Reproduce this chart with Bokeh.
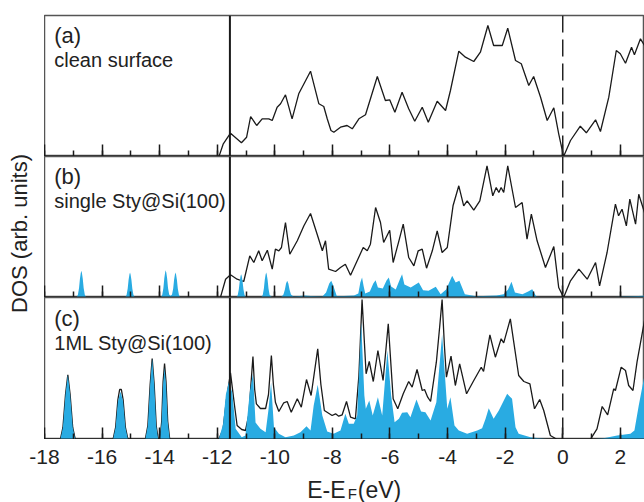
import math
from bokeh.plotting import figure
from bokeh.models import Range1d, Span, Label, SingleIntervalTicker
from bokeh.layouts import row, column
from bokeh.embed import file_html
from bokeh.resources import INLINE

# ---------------- data (energy in eV, DOS in arbitrary units) ----------------
x_ticks = [-18, -16, -14, -12, -10, -8, -6, -4, -2, 0, 2]
x_tick_labels = ["-18", "-16", "-14", "-12", "-10", "-8", "-6", "-4", "-2", "0", "2"]
x_start, x_end = -18, 2.84
surface_level = -11.56     # solid vertical marker
fermi_level = 0.0          # dashed vertical marker

panel_names = ["(a)", "(b)", "(c)"]
panel_texts = ["clean surface", "single Sty@Si(100)", "1ML Sty@Si(100)"]

# (a) clean surface: total DOS
a_total = [(-11.94, 0), (-11.79, 12.7), (-11.54, 23.3), (-11.16, 13.7), (-10.98, 19.3), (-10.84, 40),
           (-10.63, 31), (-10.44, 37.7), (-10.21, 37.7), (-10.09, 36), (-9.92, 49.3), (-9.80, 52.7),
           (-9.63, 61.7), (-9.40, 37.7), (-9.17, 62.7), (-8.76, 85.3), (-8.47, 52.7), (-8.30, 50),
           (-8.18, 37.7), (-8.05, 26), (-7.95, 24.3), (-7.72, 29.3), (-7.49, 31), (-7.31, 27.7),
           (-7.08, 37.7), (-6.85, 41.7), (-6.44, 80), (-6.16, 56), (-6.01, 56.7), (-5.83, 44.3),
           (-5.58, 64.3), (-5.35, 47.7), (-5.14, 35.3), (-4.88, 49.3), (-4.67, 34.3), (-4.36, 55.3),
           (-4.07, 46), (-3.90, 66), (-3.61, 105.3), (-3.38, 99.3), (-3.09, 95), (-2.86, 104.3),
           (-2.60, 131), (-2.40, 111), (-2.10, 111), (-1.91, 128.3), (-1.64, 96), (-1.44, 92.7),
           (-1.18, 71), (-1.01, 80), (-0.77, 59.3), (-0.54, 36), (-0.31, 48.7), (-0.14, 22.7),
           (0.03, 0), (0.27, 16), (0.61, 30.3), (0.82, 23.7), (1.14, 36.7), (1.31, 25), (1.60, 59.3),
           (1.86, 106), (2.00, 102.7), (2.18, 93.3), (2.39, 109.3), (2.49, 101.7), (2.70, 117.7), (2.84, 111)]

# (b) single styrene: total DOS
b_total = [(-11.89, 0), (-11.71, 18.3), (-11.54, 22.7), (-11.31, 18.3), (-11.08, 16), (-10.87, 41.7),
           (-10.73, 35), (-10.56, 46.7), (-10.44, 36.7), (-10.26, 47.3), (-10.09, 28.3), (-9.98, 48.3),
           (-9.86, 46.7), (-9.77, 50), (-9.63, 75), (-9.48, 43.3), (-9.22, 56.7), (-8.99, 71.7),
           (-8.76, 84), (-8.53, 63.3), (-8.35, 46.7), (-8.24, 56.7), (-8.13, 28.3), (-7.89, 26),
           (-7.72, 30), (-7.55, 33.3), (-7.37, 22.3), (-7.14, 36.7), (-6.93, 50), (-6.79, 46.7),
           (-6.68, 53.3), (-6.50, 90), (-6.33, 75), (-6.22, 55), (-6.01, 67.3), (-5.89, 35),
           (-5.69, 56.7), (-5.54, 73.3), (-5.35, 40), (-5.17, 31.7), (-5.02, 46.7), (-4.88, 48.3),
           (-4.73, 29.3), (-4.53, 46.7), (-4.36, 66.7), (-4.19, 45), (-4.01, 50), (-3.81, 91.7),
           (-3.61, 111.7), (-3.44, 91.7), (-3.32, 96.7), (-3.09, 87.3), (-2.88, 96.7), (-2.63, 131.7),
           (-2.43, 101.7), (-2.31, 110), (-2.22, 105), (-2.14, 110), (-2.05, 105), (-1.91, 131.7),
           (-1.64, 90), (-1.41, 95), (-1.24, 58.3), (-1.09, 83.3), (-0.89, 56.7), (-0.60, 30),
           (-0.31, 51), (-0.14, 10), (0.03, 0), (0.27, 16.7), (0.56, 28.3), (0.85, 18.3), (1.14, 35),
           (1.28, 11.7), (1.54, 45), (1.83, 93.3), (1.94, 81.7), (2.06, 88.3), (2.21, 71.7),
           (2.33, 98.3), (2.53, 73.3), (2.64, 103.3), (2.84, 85)]

# (b) single styrene: molecule-projected DOS (blue)
b_mol = [(-18, 0), (-16.89, 0), (-16.84, 2.7), (-16.80, 9.5), (-16.77, 18.5), (-16.74, 24.5),
         (-16.72, 26.7), (-16.70, 24.5), (-16.67, 18.5), (-16.64, 9.5), (-16.60, 2.7), (-16.55, 0),
         (-15.20, 0), (-15.15, 2.5), (-15.11, 9), (-15.08, 17.5), (-15.05, 23), (-15.03, 25),
         (-15.01, 23), (-14.98, 17.5), (-14.95, 9), (-14.91, 2.5), (-14.86, 0), (-13.96, 0),
         (-13.91, 2.7), (-13.87, 9.5), (-13.84, 19), (-13.81, 25), (-13.79, 27.3), (-13.77, 25),
         (-13.74, 19), (-13.71, 9.5), (-13.67, 3), (-13.62, 1.5), (-13.57, 3), (-13.53, 9),
         (-13.50, 17.5), (-13.47, 23), (-13.45, 25), (-13.43, 23), (-13.40, 17.5), (-13.37, 9),
         (-13.33, 2.5), (-13.28, 0), (-11.34, 0), (-11.29, 2.3), (-11.25, 8.2), (-11.22, 16),
         (-11.19, 21.5), (-11.17, 23.3), (-11.15, 21.5), (-11.12, 16), (-11.09, 8.2), (-11.05, 2.3),
         (-10.99, 0), (-10.48, 0), (-10.42, 2.5), (-10.38, 9), (-10.35, 17.5), (-10.32, 23),
         (-10.30, 25), (-10.28, 23), (-10.25, 17.5), (-10.22, 9), (-10.18, 2.5), (-10.10, 0.5),
         (-9.78, 0.5), (-9.70, 3), (-9.65, 8), (-9.61, 14), (-9.57, 16.7), (-9.53, 14), (-9.49, 8),
         (-9.44, 3), (-9.35, 1), (-9.15, 1.5), (-8.95, 2), (-8.75, 1.5), (-8.35, 1), (-8.22, 5),
         (-8.11, 14), (-8.04, 16.7), (-7.97, 12), (-7.85, 1.5), (-7.60, 1.5), (-7.25, 2), (-7.10, 4),
         (-7.03, 15), (-6.97, 20), (-6.92, 12), (-6.86, 4), (-6.70, 6), (-6.58, 14), (-6.50, 17.3),
         (-6.42, 10), (-6.25, 9), (-6.12, 17), (-6.04, 20), (-5.96, 11), (-5.80, 8), (-5.66, 18),
         (-5.58, 23.3), (-5.50, 13), (-5.28, 10), (-5.00, 15), (-4.85, 7.3), (-4.66, 6.7),
         (-4.41, 10.7), (-4.24, 3.3), (-4.05, 8), (-3.84, 21.7), (-3.72, 15), (-3.59, 16.7),
         (-3.40, 3.3), (-3.00, 1.3), (-2.30, 2), (-2.05, 3.3), (-1.90, 8), (-1.78, 15.7), (-1.66, 5),
         (-1.40, 3.3), (-1.20, 6), (-1.06, 8.3), (-0.92, 1), (-0.60, 0), (1.50, 0), (2.00, 0.8),
         (2.84, 1.7)]

# (c) 1ML styrene: total DOS
c_total = [(-18, 0), (-17.45, 0), (-17.36, 12), (-17.27, 45), (-17.19, 64.7), (-17.11, 45), (-17.02, 12),
           (-16.93, 0), (-15.62, 0), (-15.53, 12), (-15.45, 40), (-15.39, 50), (-15.33, 50), (-15.27, 40),
           (-15.19, 12), (-15.10, 0), (-14.50, 0), (-14.41, 14), (-14.33, 55), (-14.26, 81), (-14.19, 55),
           (-14.12, 14), (-14.05, 0), (-13.99, 0), (-13.93, 18), (-13.88, 58), (-13.83, 76), (-13.78, 58),
           (-13.72, 18), (-13.65, 0), (-11.95, 0), (-11.80, 10), (-11.68, 40), (-11.54, 66.7),
           (-11.40, 34), (-11.31, 14), (-11.15, 10), (-11.02, 9), (-10.90, 25), (-10.83, 55),
           (-10.76, 83), (-10.70, 50), (-10.64, 35.7), (-10.50, 31), (-10.32, 31), (-10.22, 45),
           (-10.12, 84), (-10.05, 55), (-9.98, 37.3), (-9.86, 28), (-9.69, 36.7), (-9.57, 38),
           (-9.43, 27.3), (-9.22, 40.7), (-9.08, 32.3), (-8.90, 60), (-8.74, 44), (-8.51, 90.7),
           (-8.40, 55), (-8.28, 29), (-8.01, 24), (-7.89, 25.7), (-7.78, 23.3), (-7.66, 24.7),
           (-7.51, 38), (-7.37, 22.3), (-7.20, 20.7), (-7.08, 64), (-6.97, 140), (-6.83, 65.7),
           (-6.72, 78), (-6.58, 58), (-6.42, 89), (-6.24, 59), (-6.06, 115.7), (-5.89, 40.7),
           (-5.73, 30.7), (-5.54, 45.7), (-5.35, 58), (-5.23, 52.3), (-5.06, 70), (-4.88, 49),
           (-4.80, 50), (-4.69, 42.3), (-4.59, 38), (-4.39, 77.3), (-4.27, 114), (-4.19, 140),
           (-4.11, 94), (-4.04, 62.3), (-3.88, 83.3), (-3.73, 54), (-3.58, 75.7), (-3.34, 45.7),
           (-3.09, 59), (-2.83, 72.3), (-2.75, 68), (-2.53, 104.7), (-2.34, 82.3), (-2.14, 100.7),
           (-2.05, 96.7), (-1.82, 120.7), (-1.53, 64), (-1.35, 58), (-1.14, 55.7), (-0.98, 30.7),
           (-0.80, 40), (-0.66, 29), (-0.43, 4), (-0.19, 0), (0.96, 0), (1.19, 10.7), (1.37, 33),
           (1.56, 24.7), (1.77, 50.7), (1.83, 49), (2.03, 72.3), (2.18, 69), (2.29, 54), (2.44, 49),
           (2.58, 77.3), (2.84, 119)]

# (c) 1ML styrene: molecule-projected DOS (blue)
c_mol = [(-18, 0), (-17.45, 0), (-17.36, 12), (-17.27, 45), (-17.19, 64.7), (-17.11, 45), (-17.02, 12),
         (-16.93, 0), (-15.62, 0), (-15.53, 12), (-15.45, 38), (-15.36, 48), (-15.27, 38), (-15.19, 12),
         (-15.10, 0), (-14.50, 0), (-14.41, 14), (-14.33, 55), (-14.26, 81), (-14.19, 55), (-14.12, 14),
         (-14.05, 0), (-13.99, 0), (-13.93, 18), (-13.88, 55), (-13.83, 72), (-13.78, 55), (-13.72, 18),
         (-13.65, 0), (-11.95, 0), (-11.80, 15), (-11.70, 45), (-11.60, 57), (-11.48, 47.3),
         (-11.36, 10.7), (-11.15, 2.3), (-11.02, 4), (-10.87, 47.3), (-10.76, 65.7), (-10.67, 17),
         (-10.50, 10.7), (-10.32, 7.3), (-10.22, 30), (-10.13, 56.7), (-10.03, 12.3), (-9.86, 5.7),
         (-9.63, 2.3), (-9.34, 4), (-9.11, 7.3), (-8.90, 13.3), (-8.76, 9), (-8.65, 34), (-8.51, 54.7),
         (-8.35, 24), (-8.18, 8), (-7.96, 5.7), (-7.72, 9), (-7.55, 25.7), (-7.43, 15.7), (-7.26, 15.7),
         (-7.14, 24), (-7.00, 117.3), (-6.89, 44), (-6.84, 30.7), (-6.72, 39), (-6.60, 24),
         (-6.42, 42.3), (-6.27, 24), (-6.09, 89), (-5.96, 44), (-5.84, 17.3), (-5.69, 20.7),
         (-5.58, 26.7), (-5.40, 27.3), (-5.29, 22.3), (-5.08, 40), (-4.92, 28), (-4.77, 27.3),
         (-4.59, 19), (-4.39, 37.3), (-4.19, 104.7), (-4.01, 30.7), (-3.90, 42.3), (-3.76, 14),
         (-3.61, 9), (-3.32, 5.7), (-2.97, 9), (-2.80, 11.3), (-2.68, 20.7), (-2.57, 31.3),
         (-2.40, 20.7), (-2.22, 29), (-1.93, 45.7), (-1.76, 40.7), (-1.64, 12.3), (-1.53, 5.7),
         (-1.12, 2.3), (-0.66, 0.7), (-0.31, 0), (0.96, 0), (1.42, 1.3), (1.89, 4), (2.35, 5.7),
         (2.49, 9), (2.64, 34), (2.84, 64)]

panel_totals = [a_total, b_total, c_total]
panel_mols = [None, b_mol, c_mol]

# ---------------- styling ----------------
FONT = "Liberation Sans"
BLUE = "#29abe2"
INK = "#1a1a1a"
TXT = "#222222"
frame_heights = [141, 141, 142]
borders_top = [15, 0, 0]
FIG_W = 600
LEFT_W = 44
BOTTOM_H = 63          # strip holding tick labels and the axis title
BOTTOM_AXIS_H = 24

xr = Range1d(x_start, x_end)
overrides = {t: s for t, s in zip(x_ticks, x_tick_labels)}


def bare(p):
    p.xgrid.visible = False
    p.ygrid.visible = False
    p.background_fill_color = "white"
    p.border_fill_color = "white"


figs = []
for i in range(3):
    h = frame_heights[i]
    p = figure(width=FIG_W, height=h + borders_top[i],
               x_range=xr, y_range=Range1d(0, h),
               output_backend="svg", toolbar_location=None,
               y_axis_location=None,
               min_border_left=0, min_border_right=0,
               min_border_top=borders_top[i], min_border_bottom=0)
    bare(p)
    p.outline_line_color = "#555555"
    p.outline_line_width = 1.5

    ax = p.xaxis[0]
    ax.ticker = SingleIntervalTicker(interval=2, num_minor_ticks=2)
    ax.major_tick_in = 12
    ax.major_tick_out = 0
    ax.minor_tick_in = 6
    ax.minor_tick_out = 0
    ax.major_tick_line_width = 1.5
    ax.minor_tick_line_width = 1.5
    ax.major_tick_line_color = INK
    ax.minor_tick_line_color = INK
    ax.axis_line_width = 2
    ax.axis_line_color = INK
    ax.major_label_text_font_size = "0px"
    ax.major_label_text_color = None
    ax.major_label_standoff = 0

    tx, ty = zip(*panel_totals[i])
    p.line(list(tx), list(ty), line_color=INK, line_width=1.3)
    if panel_mols[i] is not None:
        mx, my = zip(*panel_mols[i])
        p.varea(x=list(mx), y1=0, y2=list(my), fill_color=BLUE)

    p.add_layout(Span(location=surface_level, dimension="height", line_color=INK, line_width=2))
    p.add_layout(Span(location=fermi_level, dimension="height", line_color=TXT,
                      line_width=1.5, line_dash="17 7"))

    p.add_layout(Label(x=-17.66, y=121.5, text=panel_names[i], text_font=FONT,
                       text_font_size="22px", text_color=TXT, text_baseline="alphabetic"))
    p.add_layout(Label(x=-17.66, y=97, text=panel_texts[i], text_font=FONT,
                       text_font_size="20px", text_color=TXT, text_baseline="alphabetic"))
    figs.append(p)

# bottom strip: tick labels (axis above its frame) + axis title with subscript F
xl = figure(width=LEFT_W + FIG_W, height=BOTTOM_H, x_range=xr,
            y_range=Range1d(0, BOTTOM_H - BOTTOM_AXIS_H),
            x_axis_location="above", y_axis_location=None, output_backend="svg",
            toolbar_location=None, min_border_left=LEFT_W, min_border_right=0,
            min_border_top=BOTTOM_AXIS_H, min_border_bottom=0, outline_line_color=None)
bare(xl)
bx = xl.xaxis[0]
bx.ticker = SingleIntervalTicker(interval=2, num_minor_ticks=0)
bx.major_label_overrides = overrides
bx.major_tick_in = 0
bx.major_tick_out = 0
bx.minor_tick_in = 0
bx.minor_tick_out = 0
bx.axis_line_color = None
bx.major_tick_line_color = None
bx.minor_tick_line_color = None
bx.major_label_standoff = 0
bx.major_label_text_font = FONT
bx.major_label_text_font_size = "21px"
bx.major_label_text_color = TXT

xl.add_layout(Label(x=-8.875, y=13, text="E-E", text_font=FONT, text_font_size="23px",
                    text_color=TXT, text_baseline="alphabetic"))
xl.add_layout(Label(x=-7.47, y=9.5, text="F", text_font=FONT, text_font_size="15px",
                    text_color=TXT, text_baseline="alphabetic"))
xl.add_layout(Label(x=-7.12, y=13, text="(eV)", text_font=FONT, text_font_size="23px",
                    text_color=TXT, text_baseline="alphabetic"))

panels_h = sum(frame_heights) + sum(borders_top)
yfig = figure(width=LEFT_W, height=panels_h, x_range=Range1d(0, LEFT_W), y_range=Range1d(0, panels_h),
              x_axis_location=None, y_axis_location=None, output_backend="svg",
              toolbar_location=None, min_border=0, outline_line_color=None)
bare(yfig)
yfig.add_layout(Label(x=19, y=panels_h - 233, text="DOS (arb. units)", angle=math.pi / 2,
                      text_font=FONT, text_font_size="22px", text_color=TXT,
                      text_align="center", text_baseline="alphabetic"))

layout = column(row(yfig, column(*figs)), xl)
open("out.html", "w").write(file_html(layout, INLINE))
